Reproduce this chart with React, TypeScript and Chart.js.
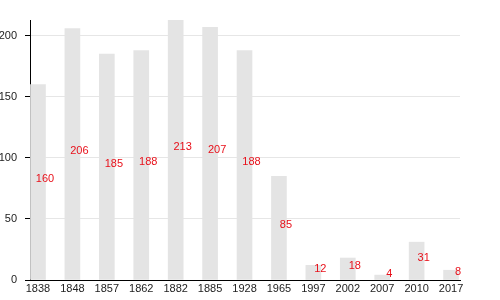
import React, { useEffect, useRef } from "react";
import { Chart, registerables } from "chart.js";

Chart.register(...registerables);

const categories = ["1838", "1848", "1857", "1862", "1882", "1885", "1928", "1965", "1997", "2002", "2007", "2010", "2017"];
const values = [160, 206, 185, 188, 213, 207, 188, 85, 12, 18, 4, 31, 8];
const yTicks = [0, 50, 100, 150, 200];

const FONT = "'Liberation Sans', Arial, Helvetica, sans-serif";

const valueLabels = {
  id: "valueLabels",
  afterDatasetsDraw(chart: any) {
    const ctx = chart.ctx;
    const meta = chart.getDatasetMeta(0);
    ctx.save();
    ctx.fillStyle = "#e8101a";
    ctx.font = `11px ${FONT}`;
    ctx.textAlign = "center";
    ctx.textBaseline = "middle";
    meta.data.forEach((bar: any, i: number) => {
      const y = (bar.y + bar.base) / 2 - 3;
      ctx.fillText(String(values[i]), bar.x + 7, y);
    });
    ctx.restore();
  },
};

export default function App() {
  const ref = useRef<HTMLCanvasElement>(null);
  useEffect(() => {
    if (!ref.current) return;
    const chart = new Chart(ref.current, {
      type: "bar",
      data: {
        datasets: [
          {
            data: values.map((v, i) => ({ x: i, y: v })),
            backgroundColor: "#e4e4e4",
            borderWidth: 0,
            barThickness: 15,
          },
        ],
      },
      options: {
        animation: false,
        responsive: false,
        layout: { padding: { top: 20, right: 40, left: 0, bottom: 0 } },
        plugins: { legend: { display: false }, tooltip: { enabled: false } },
        scales: {
          x: {
            type: "linear",
            offset: false,
            min: -0.232,
            max: 12.26,
            afterBuildTicks: (scale: any) => {
              scale.ticks = categories.map((_, i) => ({ value: i }));
            },
            afterFit: (scale: any) => {
              scale.height = 20;
            },
            grid: { display: false, drawTicks: false, offset: false },
            border: { display: true, color: "#000", width: 1 },
            ticks: {
              autoSkip: false,
              maxRotation: 0,
              padding: 2,
              color: "#222",
              font: { family: FONT, size: 11 },
              callback: (v: any) => categories[Math.round(Number(v))] ?? "",
            },
          },
          y: {
            type: "linear",
            min: 0,
            max: 213,
            afterBuildTicks: (scale: any) => {
              scale.ticks = yTicks.map((v) => ({ value: v }));
            },
            afterFit: (scale: any) => {
              scale.width = 30;
            },
            grid: {
              color: (c: any) => (c.tick && c.tick.value === 0 ? "rgba(0,0,0,0)" : "#e6e6e6"),
              tickColor: "#000",
              tickLength: 5,
              lineWidth: 1,
            },
            border: { display: true, color: "#000", width: 1 },
            ticks: {
              padding: 8,
              color: "#222",
              font: { family: FONT, size: 11 },
            },
          },
        },
      },
      plugins: [valueLabels],
    });
    return () => chart.destroy();
  }, []);
  return (
    <div style={{ position: "fixed", left: 0, top: 0, width: 500, height: 300, background: "#fff" }}>
      <canvas ref={ref} width={500} height={300} />
    </div>
  );
}
